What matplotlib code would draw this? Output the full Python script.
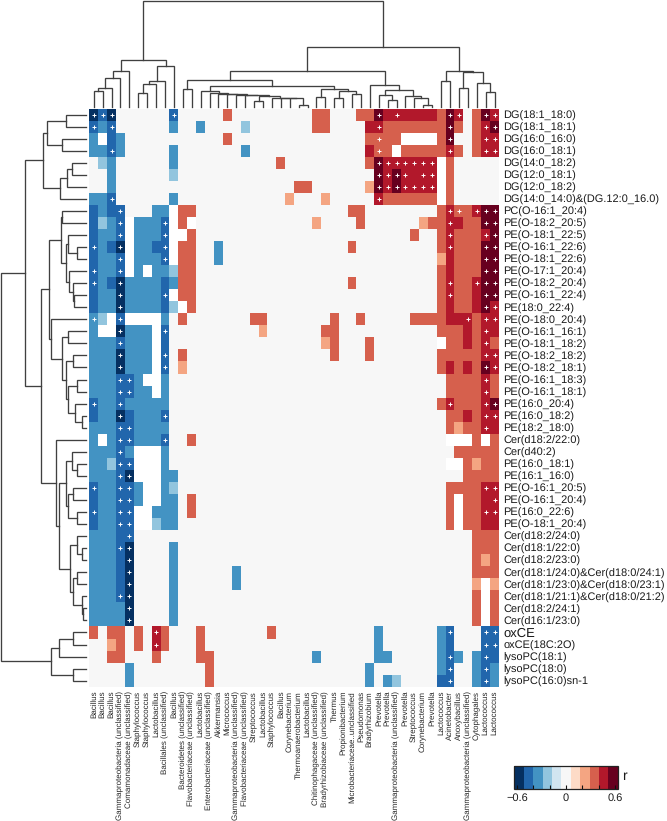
import numpy as np
import matplotlib
matplotlib.use('Agg')
import matplotlib.pyplot as plt
from matplotlib.colors import ListedColormap, BoundaryNorm
from matplotlib.cm import ScalarMappable

plt.rcParams['font.family'] = ['Liberation Sans', 'DejaVu Sans']
# widths go in steps when hinted, the labels came out too short or too long
plt.rcParams['text.hinting'] = 'no_hinting'
plt.rcParams['text.hinting_factor'] = 1

# taxa along the bottom
col_labels = ['Bacillus', 'Bacillus', 'Bacillus', 'Gammaproteobacteria (unclassified)',
              'Comamonadaceae (unclassified)', 'Staphylococcus', 'Staphylococcus', 'Lactobacillus',
              'Bacillales (unclassified)', 'Bacillus', 'Bacteroidetes (unclassified)',
              'Flavobacteriaceae (unclassified)', 'Lactobacillus', 'Enterobacteriaceae (unclassified)',
              'Akkermansia', 'Micrococcus', 'Gammaproteobacteria (unclassified)',
              'Flavobacteriaceae (unclassified)', 'Streptococcus', 'Lactobacillus', 'Staphylococcus',
              'Bacillus', 'Corynebacterium', 'Thermoanaerobacterium', 'Lactobacillus',
              'Chitinophagaceae (unclassified)', 'Bradyrhizobiaceae (unclassified)', 'Thermus',
              'Propionibacterium', 'Microbacteriaceae..unclassified', 'Pseudomonas', 'Bradyrhizobium',
              'Prevotella', 'Prevotella', 'Gammaproteobacteria (unclassified)', 'Prevotella',
              'Streptococcus', 'Corynebacterium', 'Prevotella', 'Lactococcus', 'Acinetobacter',
              'Anoxybacillus', 'Gammaproteobacteria (unclassified)', 'Cytophagales', 'Lactococcus',
              'Lactococcus']

# lipids on the right
row_labels = ['DG(18:1_18:0)', 'DG(18:1_18:1)', 'DG(16:0_16:0)', 'DG(16:0_18:1)', 'DG(14:0_18:2)',
              'DG(12:0_18:1)', 'DG(12:0_18:2)', 'DG(14:0_14:0)&(DG.12:0_16.0)', 'PC(O-16:1_20:4)',
              'PE(O-18:2_20:5)', 'PE(O-18:1_22:5)', 'PE(O-16:1_22:6)', 'PE(O-18:1_22:6)',
              'PE(O-17:1_20:4)', 'PE(O-18:2_20:4)', 'PE(O-16:1_22:4)', 'PE(18:0_22:4)',
              'PE(O-18:0_20:4)', 'PE(O-16:1_16:1)', 'PE(O-18:1_18:2)', 'PE(O-18:2_18:2)',
              'PE(O-18:2_18:1)', 'PE(O-16:1_18:3)', 'PE(O-16:1_18:1)', 'PE(16:0_20:4)',
              'PE(16:0_18:2)', 'PE(18:2_18:0)', 'Cer(d18:2/22:0)', 'Cer(d40:2)', 'PE(16:0_18:1)',
              'PE(16:1_16:0)', 'PE(O-16:1_20:5)', 'PE(O-16:1_20:4)', 'PE(16:0_22:6)', 'PE(O-18:1_20:4)',
              'Cer(d18:2/24:0)', 'Cer(d18:1/22:0)', 'Cer(d18:2/23:0)', 'Cer(d18:1/24:0)&Cer(d18:0/24:1)',
              'Cer(d18:1/23:0)&Cer(d18:0/23:1)', 'Cer(d18:1/21:1)&Cer(d18:0/21:2)', 'Cer(d18:2/24:1)',
              'Cer(d16:1/23:0)', 'oxCE', 'oxCE(18C:2O)', 'lysoPC(18:1)', 'lysoPC(18:0)',
              'lysoPC(16:0)sn-1']

# r read from the colour of each cell, one letter per colour band
# _ is a cell left blank
r_of_letter = {'E': -0.55, 'D': -0.44, 'C': -0.33, 'B': -0.22, 'A': -0.11, '.': 0.0,
               'a': 0.11, 'b': 0.22, 'c': 0.33, 'd': 0.44, 'e': 0.55, '_': np.nan}

cell_rows = [
    'EDE......D .....c.... .....cc... cceddddddc ed.ced',
    'DCD......C ..C....B.. .....cc... .ddccccccc ec.cde',
    'C_DC...... .....c.... .......... .cccc____c e..cdd',
    'CCDC.....C .......C.. .......... .dcc_ccccc dc.cdd',
    '.BC......C .......... .c........ .cedddddd_ c.....',
    '..C......B .......... .......... ..ededddd_ c.....',
    '..C....... .......... ...cc..... .bededddd_ c.....',
    'CCD......C .......... ..b...b... ..dcccccc_ c.....',
    'DCDD...CC_ cc........ .........c c........c dccdee',
    'DBCD_CCCD_ c_........ .....b.... c......bcc ddccee',
    'DCCD_CCCD_ _c........ .......... ......c..c dcccde',
    'DCDE_CCDD_ cc..C..... .........c .........c dcccee',
    'DCCD_CCCD_ cc..C..... .......... .........b dcccee',
    'DCCD_C_CCB cc........ .......... .........c dcccee',
    'DCDECCCCDC cc........ .........c .........c dccdee',
    'DCCECCCCD_ cc........ .......... .........c dccdee',
    'DCCECCCCDB _c........ .......... .........c dccded',
    'CB_D____C. c.......cc .......c.. c.....cccc dddcdd',
    'C__ECCC_D. .........b ......cc.. .........c ccdcdd',
    'CCCDCCC_D. .......... ......bc.. .c......._ ccdcdc',
    'CCCECCC_D. c......... .......c.. .c.......c ccccdd',
    'CCCECCC_D. b......... .......... .........c dcdced',
    'CCCDDC__C. .......... .......... .......... ccccdc',
    'CCCDDCC_C. .......... .......... .......... ccccdc',
    'DCCDCCCCC. .......... .......... .........c dcccde',
    'DCCEDCCCD. .......... .......... .......... ccdcdd',
    'CCCDDCCCC. .......... .......... .......... cbccdd',
    'C_CDDCCCD. .c........ .......... .......... ___c_c',
    'CCCDC___C. .......... .......... .......... .ccccc',
    'CCBDD___C. .......... .......... .......... __cbcc',
    'CCCDE___CC .......... .......... .......... ..cccc',
    'DCCDDC__CB .......... .......... .......... ccccdd',
    'DCCDDC__CC .c........ .......... .......... c_ccdd',
    'DCCDD__CCC .c........ .......... .......... c_ccdd',
    'DCCDD__BCC .......... .......... .......... c_ccdd',
    'CCCDD..... .......... .......... .......... ...ccc',
    'CCCDE....C .......... .......... .......... ...ccc',
    'CCCDE....C .......... .......... .......... ...cbc',
    'CCCDE....C ......C... .......... .......... ...ccc',
    'CCCDE....C ......C... .......... .......... ...b_b',
    'CCCDE....C .......... .......... .......... ...c_c',
    'CCCCE....C .......... .......... .......... ...c_c',
    'CCCCE....C .......... .......... .......... ...c_c',
    'c.cc.c.dc. ..c....... c......... ..C......C D...DD',
    '..bc.c.dc. ..c....... .......... ..C......C D...DD',
    '..cc...c.. ..cc...... .....C.... ..CC.....C DC.CDD',
    '....C..... ...c...... .......... .C.......C D..CDC',
    '....C..... ...c...... .......... .C.CB....D D..CDC',
]

# columns carrying a + in each row
plus_cols = [
    [0, 1, 2, 9, 32, 34, 40, 41, 44, 45], [0, 2, 32, 40, 44, 45], [32, 40, 44, 45], [2, 32, 40, 44, 45],
    [32, 33, 34, 35, 36, 37, 38], [32, 33, 34, 35, 37, 38], [32, 33, 34, 35, 36, 37, 38], [2, 32],
    [3, 40, 41, 43, 44, 45], [3, 8, 40, 44, 45], [3, 8, 40, 44, 45], [0, 3, 8, 40, 44, 45],
    [3, 8, 44, 45], [0, 3, 44, 45], [0, 3, 40, 43, 44, 45], [3, 8, 40, 44, 45], [3, 44, 45],
    [0, 3, 42, 44, 45], [3, 8, 44], [3, 44], [3, 8, 44, 45], [3, 8, 44, 45], [3, 4, 44], [3, 4, 44],
    [0, 3, 40, 44, 45], [3, 8, 44, 45], [3, 4, 44], [3, 4, 8], [3], [3, 4], [3, 4], [0, 3, 4, 44, 45],
    [3, 4, 45], [0, 3, 4, 44, 45], [3, 4], [4], [3, 4], [4], [4], [4], [3, 4], [4], [4],
    [7, 40, 44, 45], [7, 44, 45], [40, 44], [40, 44], [40, 44],
]

# clustering: (height, first child, second child), a plain int is a leaf
# columns
c_bac = (35.3, (28.3, (18.3, (15.7, 0, 1), 2), 3), 4)
c_sta = (40.7, (26, (22.7, (14, 5, 6), 7), 8), 9)
c_tail = (9, 20, (8.3, 21, (8.2, 22, (1.7, 23, 24))))
c_mid = (11.3, 17, (10.7, (5.7, 18, 19), c_tail))
c_chain = (15.7, 12, (14, 13, (13, 14, (12.3, 15, (11.7, 16, c_mid)))))
c_chi = (17.3, (10, 25, 26), (16, (8.3, 27, 28), (12.7, 29, 30)))
c_first = (26.3, (18, 10, 11), (21, c_chain, c_chi))
c_pre = (21.7, 31, (16.7, (12, 32, (6.7, 33, 34)), (10.7, 35, (8.7, 36, (1.3, 37, 38)))))
c_lac = (35.3, (25.7, 39, 40), (34.3, (19, 41, 42), (23.3, 43, (15, 44, 45))))
col_tree = (105.7, (46.7, c_bac, c_sta), (59.7, (35.3, c_first, c_pre), c_lac))

# rows
r_dg = (43.3, (39.3, (20, 0, 1), (24.3, 2, 3)), (26, (18.7, (14.3, 4, 5), 6), 7))
r_pe1 = (25, (24.3, 8, 9), (20, (18.3, 10, (9.3, 11, 12)), (16.7, 13, (13.3, 14, (12.3, 15, 16)))))
r_pe2 = (20.3, (12.7, 20, 21), (17.7, (9.3, 22, 23), (11, 24, (4.3, 25, 26))))
r_pe3 = (35, 17, (23.7, (18.3, 18, 19), r_pe2))
r_cer1 = (20.3, (13.7, 28, (8.7, 29, 30)), (17.7, (12.7, 31, 32), (9.3, 33, 34)))
r_cer2 = (16, (9.3, 35, (3.7, 36, 37)), (13.3, (9.3, 38, 39), (4.3, 40, (3, 41, 42))))
r_ox = (35.3, (26.7, (13.3, 43, 44), 45), (12.7, 46, 47))
row_tree = (85, (60.7, r_dg, (45.3, (36.7, r_pe1, r_pe3), (30.3, 27, (26.7, r_cer1, r_cer2)))), r_ox)

r_colors = ['#053061', '#2166ac', '#4393c3', '#92c5de', '#d1e5f0', '#f7f7f7',
            '#fddbc7', '#f4a582', '#d6604d', '#b2182b', '#67001f']
r_bounds = np.linspace(-0.635, 0.635, 12)

W, H = 667, 821


def px_axes(left, top, right, bottom):
    # axes given in pixels of the finished picture
    return fig.add_axes([left / W, 1 - bottom / H, (right - left) / W, (bottom - top) / H])


def draw_tree(ax, node, horizontal):
    # returns the position of the node along the leaves and its height
    if not isinstance(node, tuple):
        return node + 0.5, 0
    h, a, b = node
    pa, ha = draw_tree(ax, a, horizontal)
    pb, hb = draw_tree(ax, b, horizontal)
    xs, ys = [pa, pa, pb, pb], [ha, h, h, hb]
    if horizontal:
        xs, ys = ys, xs
    ax.plot(xs, ys, color='#404040', lw=0.95, solid_joinstyle='miter', clip_on=False)
    return (pa + pb) / 2, h


fig = plt.figure(figsize=(W / 100, H / 100), dpi=100)

# heatmap
values = np.array([[r_of_letter[c] for c in row.replace(' ', '')] for row in cell_rows])
cmap = ListedColormap(r_colors)
norm = BoundaryNorm(r_bounds, cmap.N)

ax = px_axes(89.3, 108.5, 499, 686.7)
ax.pcolormesh(np.arange(values.shape[1] + 1), np.arange(values.shape[0] + 1), values,
              cmap=cmap, norm=norm, edgecolors='none')
ax.set_xlim(0, values.shape[1])
ax.set_ylim(values.shape[0], 0)
for s in ax.spines.values():
    s.set_visible(False)

for j, cols in enumerate(plus_cols):
    ax.scatter(np.array(cols) + 0.5, [j + 0.5] * len(cols), marker='+', c='white', s=9, linewidths=0.7)

ax.set_xticks(np.arange(len(col_labels)) + 0.5)
ax.set_xticklabels(col_labels, rotation=90, fontsize=5.75, color='#262626')
ax.xaxis.set_tick_params(length=0, pad=3.0)
ax.yaxis.tick_right()
ax.set_yticks(np.arange(len(row_labels)) + 0.5)
ax.set_yticklabels(row_labels, fontsize=8, color='#1a1a1a')
ax.yaxis.set_tick_params(length=0, pad=3)
ax.get_yticklabels()[row_labels.index('oxCE')].set_fontsize(9)

# dendrograms
ax_top = px_axes(89.3, 1, 499, 106.7)
draw_tree(ax_top, col_tree, False)
ax_top.set_xlim(0, values.shape[1])
ax_top.set_ylim(0, 105.7)
ax_top.axis('off')

ax_left = px_axes(1, 108.5, 86, 686.7)
draw_tree(ax_left, row_tree, True)
ax_left.set_xlim(85, 0)
ax_left.set_ylim(values.shape[0], 0)
ax_left.axis('off')

# colour key
cax = px_axes(514.3, 766, 617.7, 789)
cb = fig.colorbar(ScalarMappable(norm=norm, cmap=cmap), cax=cax, orientation='horizontal',
                  ticks=[-0.6, -0.4, -0.2, 0, 0.2, 0.4, 0.6], drawedges=False)
cb.ax.set_xticklabels(['\u22120.6', '', '', '0', '', '', '0.6'], fontsize=8, color='#1a1a1a')
cb.ax.minorticks_off()
cb.ax.tick_params(axis='x', direction='in', length=3, width=0.8, color='#111111', pad=3)
cb.outline.set_edgecolor('#222222')
cb.outline.set_linewidth(0.9)
fig.text(622 / W, 1 - 776 / H, 'r', fontsize=10, ha='left', va='center', color='#1a1a1a')

fig.savefig('out.png', dpi=100)
